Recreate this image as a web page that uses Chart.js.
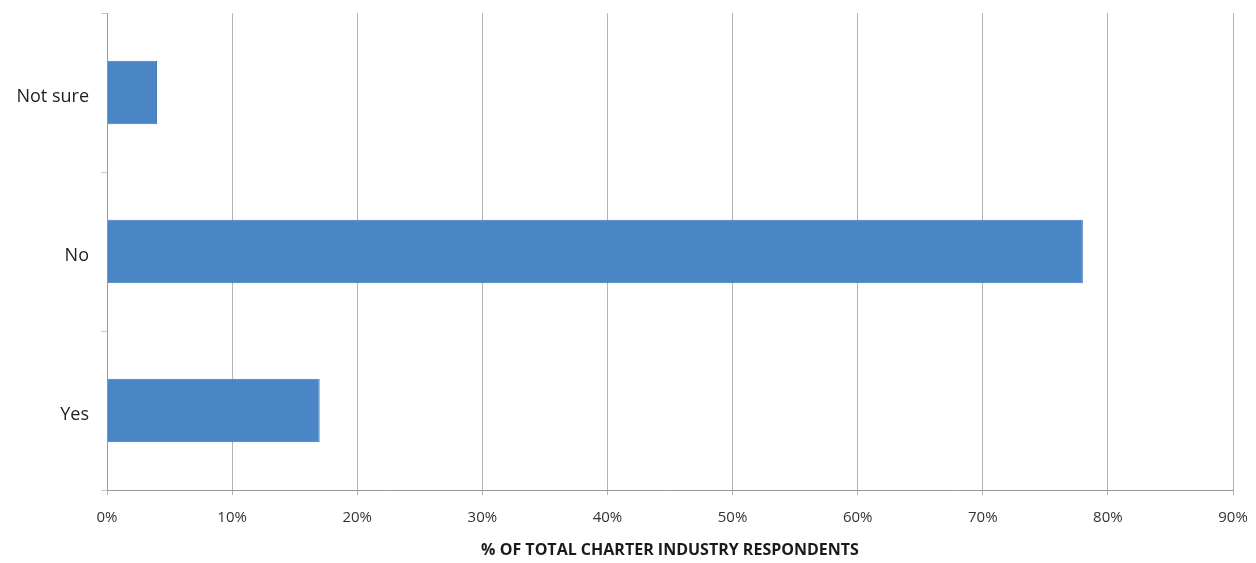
<!DOCTYPE html>
<html>
<head>
<meta charset="utf-8">
<script src="https://cdn.jsdelivr.net/npm/chart.js@4/dist/chart.umd.min.js"></script>
<style>
html,body{margin:0;padding:0;background:#fff;}
#wrap{width:1256px;height:563px;position:relative;}
</style>
</head>
<body>
<div id="wrap"><canvas id="c"></canvas></div>
<script>
const categories = ["Not sure", "No", "Yes"];
const values = [4, 78, 17];
const xTicks = [0, 10, 20, 30, 40, 50, 60, 70, 80, 90];
const xTitle = "% OF TOTAL CHARTER INDUSTRY RESPONDENTS";

const FONT = "'Open Sans', 'Noto Sans', sans-serif";

new Chart(document.getElementById('c'), {
  type: 'bar',
  data: {
    labels: categories,
    datasets: [{
      data: values,
      backgroundColor: '#4A86C6',
      borderColor: '#3F78B8',
      borderWidth: 1,
      barPercentage: 0.4,
      categoryPercentage: 1.0
    }]
  },
  options: {
    indexAxis: 'y',
    responsive: true,
    maintainAspectRatio: false,
    animation: false,
    layout: { padding: { top: 13, right: 23, left: 0, bottom: 0 } },
    plugins: { legend: { display: false }, tooltip: { enabled: false } },
    scales: {
      x: {
        min: 0, max: 90,
        afterBuildTicks: (s) => { s.ticks = xTicks.map(v => ({ value: v })); },
        afterFit: (s) => { s.height = 73; s.paddingLeft = 0; s.paddingRight = 0; },
        ticks: {
          callback: (v) => v + '%',
          color: '#333',
          font: { family: FONT, size: 15 },
          padding: 14
        },
        grid: { color: '#b4b4b4', lineWidth: 1, tickLength: 5, drawTicks: true },
        border: { color: '#9a9a9a', width: 1 },
        title: {
          display: true,
          text: xTitle,
          color: '#1a1a1a',
          font: { family: FONT, size: 16, weight: 'bold' },
          padding: { top: 0, bottom: 3 }
        }
      },
      y: {
        afterFit: (s) => { s.width = 107; s.paddingTop = 0; s.paddingBottom = 0; },
        ticks: {
          color: '#1e1e1e',
          font: { family: FONT, size: 18 },
          padding: 12,
          labelOffset: 4
        },
        grid: { display: true, offset: true, drawOnChartArea: false, tickLength: 6, color: '#c8c8c8' },
        border: { color: '#9a9a9a', width: 1 }
      }
    }
  }
});
</script>
</body>
</html>
